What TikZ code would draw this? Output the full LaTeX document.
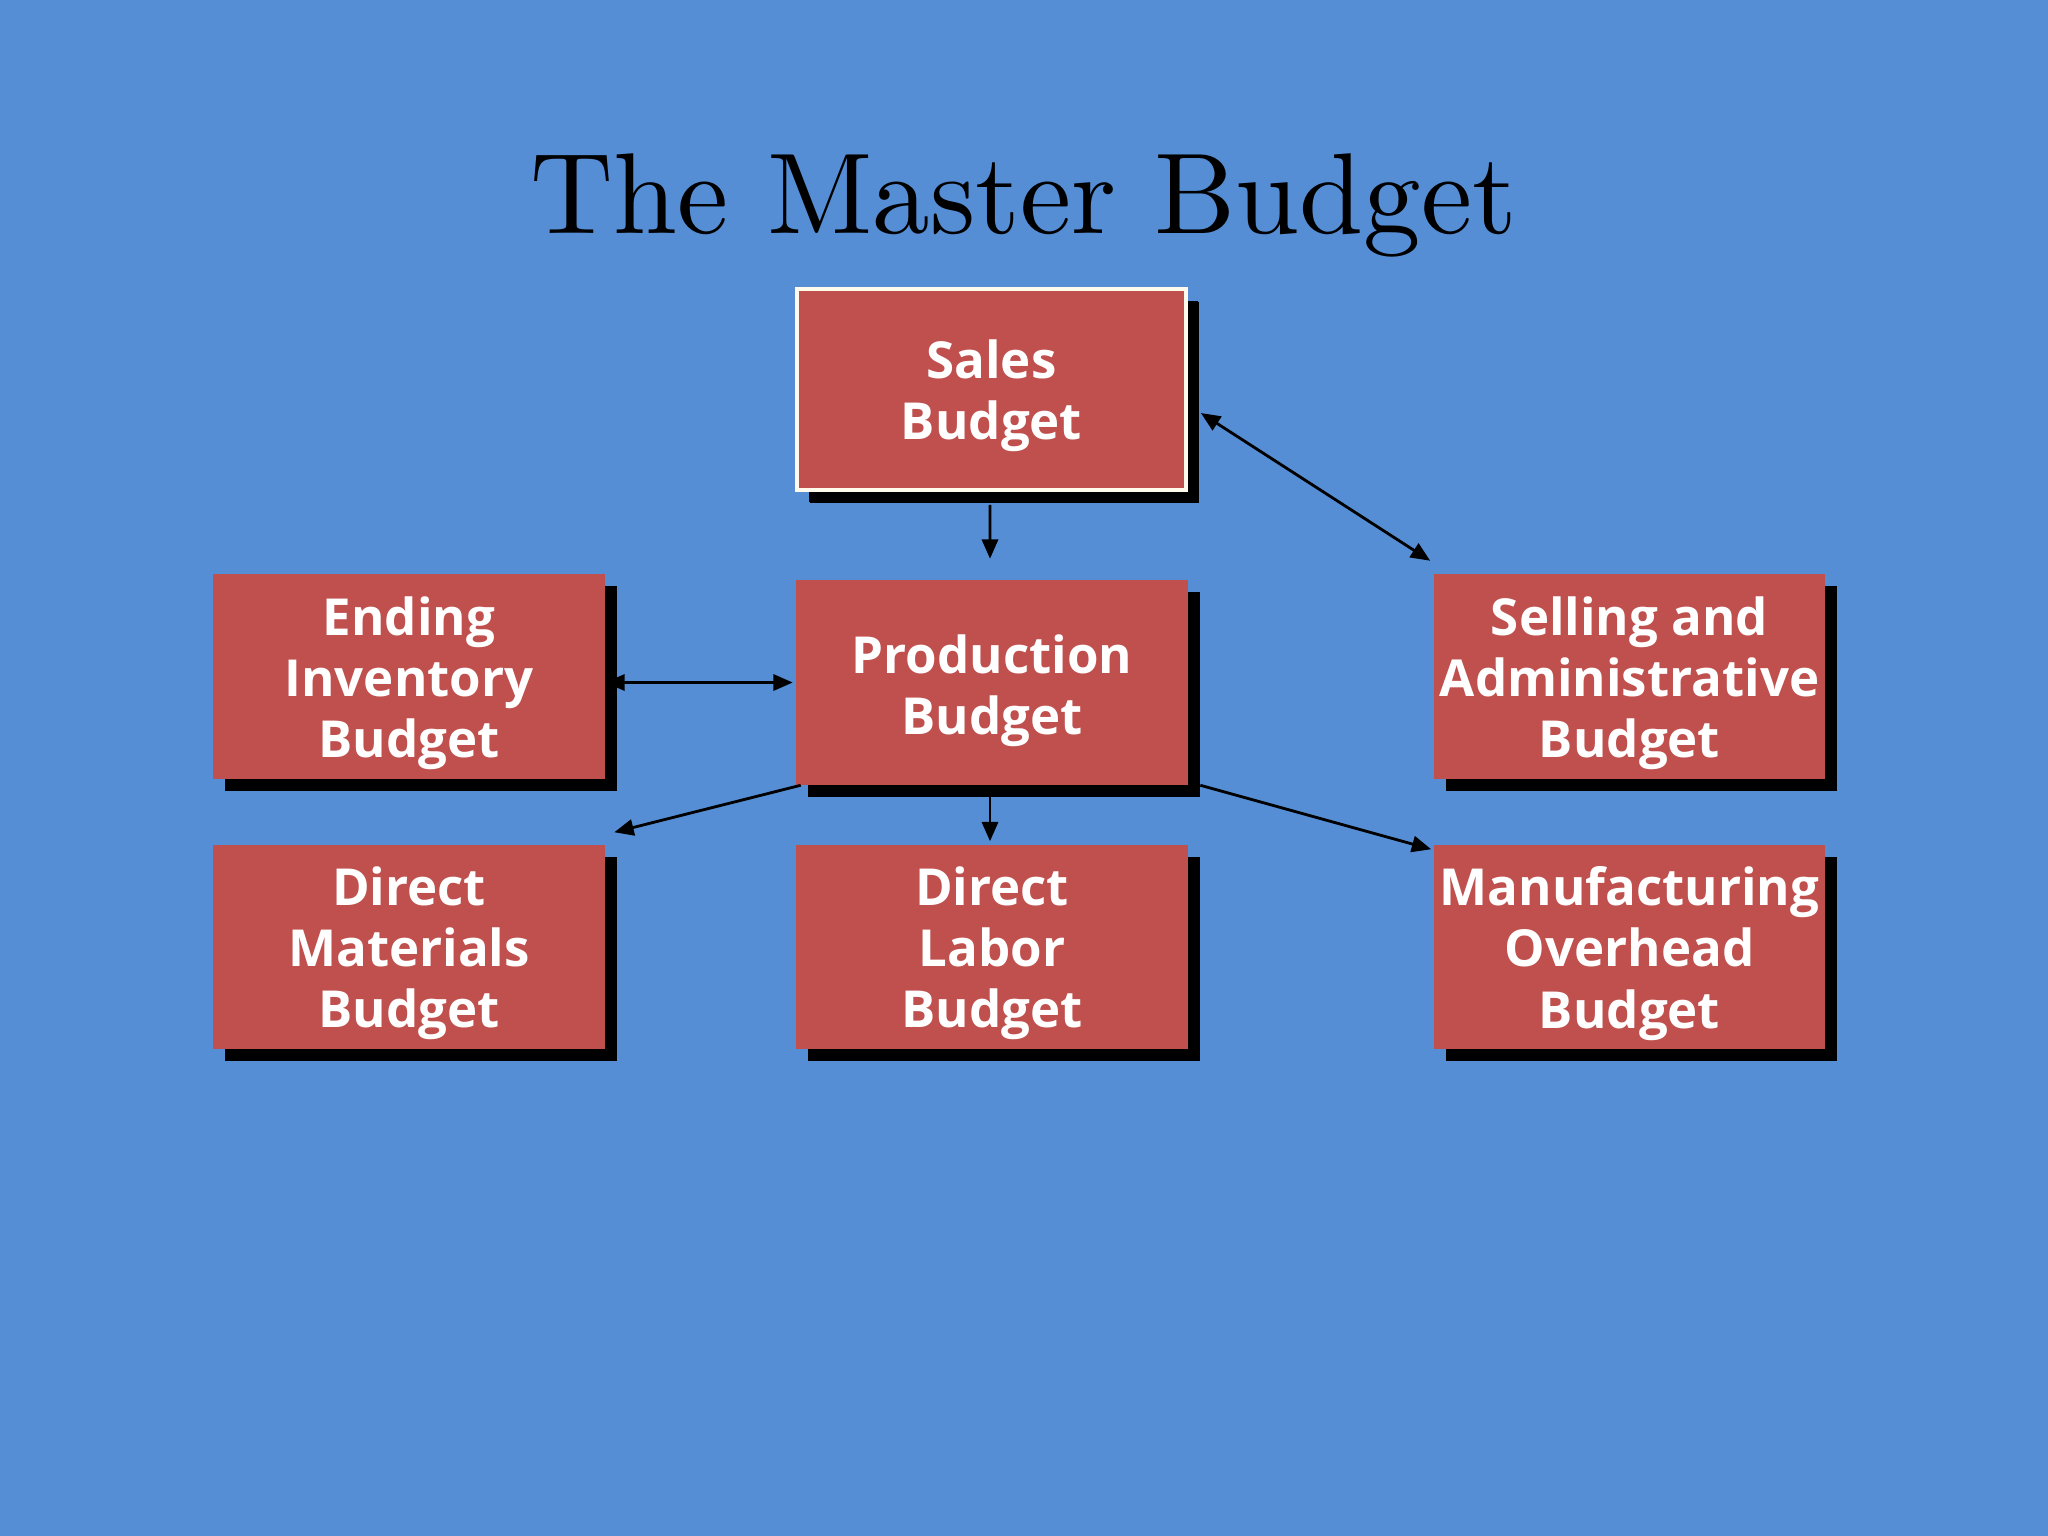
\documentclass[tikz,border=0pt]{standalone}
\usepackage{fontspec}
\newfontfamily\boxfont{Open Sans}
\newfontfamily\titlefont{lmroman10-regular.otf}
\usetikzlibrary{shadows,arrows.meta}
\definecolor{bgblue}{RGB}{85,142,213}
\definecolor{boxred}{RGB}{192,80,77}
\definecolor{cream}{RGB}{255,250,235}
\tikzset{
  bbox/.style={fill=boxred, minimum width=3.91cm, minimum height=2.04cm, inner sep=0pt,
    drop shadow={shadow xshift=0.12cm, shadow yshift=-0.12cm, opacity=1, fill=black}},
  btext/.style={inner sep=0pt, yshift=-0.065cm, text=white, align=center,
    font=\boxfont\bfseries\fontsize{14.5pt}{17.4pt}\selectfont},
  arr/.style={draw=black, line width=0.8pt, -{Triangle[length=5.5pt,width=4.6pt]}},
  darr/.style={draw=black, line width=0.8pt, {Triangle[length=5.5pt,width=4.6pt]}-{Triangle[length=5.5pt,width=4.6pt]}}
}
\begin{document}
\begin{tikzpicture}[x=0.01cm, y=-0.01cm]
\useasboundingbox (0,0) rectangle (2048,1536);
\fill[bgblue] (0,0) rectangle (2048,1536);
\node[font=\titlefont\fontsize{32.7pt}{38pt}\selectfont, anchor=base, inner sep=0pt] (title) at (1024,233) {The Master Budget};
\node[bbox, draw=cream, line width=1pt, minimum width=3.89cm, minimum height=2.01cm,
  drop shadow={shadow xshift=0.13cm, shadow yshift=-0.13cm, opacity=1, fill=black},
  label={[btext]center:Sales\\Budget}] (sales) at (991.5,389.5) {};
\node[bbox, label={[btext]center:Ending\\Inventory\\Budget}] (ending) at (409,676.5) {};
\node[bbox, label={[btext, yshift=-0.02cm]center:Production\\Budget}] (prod) at (992,682.5) {};
\node[bbox, label={[btext]center:Selling and\\Administrative\\Budget}] (sell) at (1629.5,676.5) {};
\node[bbox, label={[btext]center:Direct\\Materials\\Budget}] (dm) at (409,947) {};
\node[bbox, label={[btext]center:Direct\\Labor\\Budget}] (dl) at (992,947) {};
\node[bbox, label={[btext]center:Manufacturing\\Overhead\\Budget}] (mfg) at (1629.5,947) {};
\draw[arr] ([xshift=-0.015cm,yshift=-0.13cm]sales.south) -- ([xshift=-0.02cm,yshift=0.21cm]prod.north);
\draw[darr] ([xshift=0.13cm,yshift=-0.235cm]sales.east) -- ([xshift=-0.03cm,yshift=0.13cm]sell.north west);
\draw[darr] (ending.east |- prod.west) -- ([xshift=-0.03cm]prod.west);
\draw[arr] ([xshift=0.05cm]prod.south west) -- ([xshift=0.09cm,yshift=0.12cm]dm.north east);
\draw[arr] ([xshift=-0.02cm,yshift=-0.12cm]prod.south) -- ([xshift=-0.02cm,yshift=0.03cm]dl.north);
\draw[arr] ([xshift=0.12cm]prod.south east) -- ([xshift=-0.02cm,yshift=-0.05cm]mfg.north west);
\end{tikzpicture}
\end{document}
